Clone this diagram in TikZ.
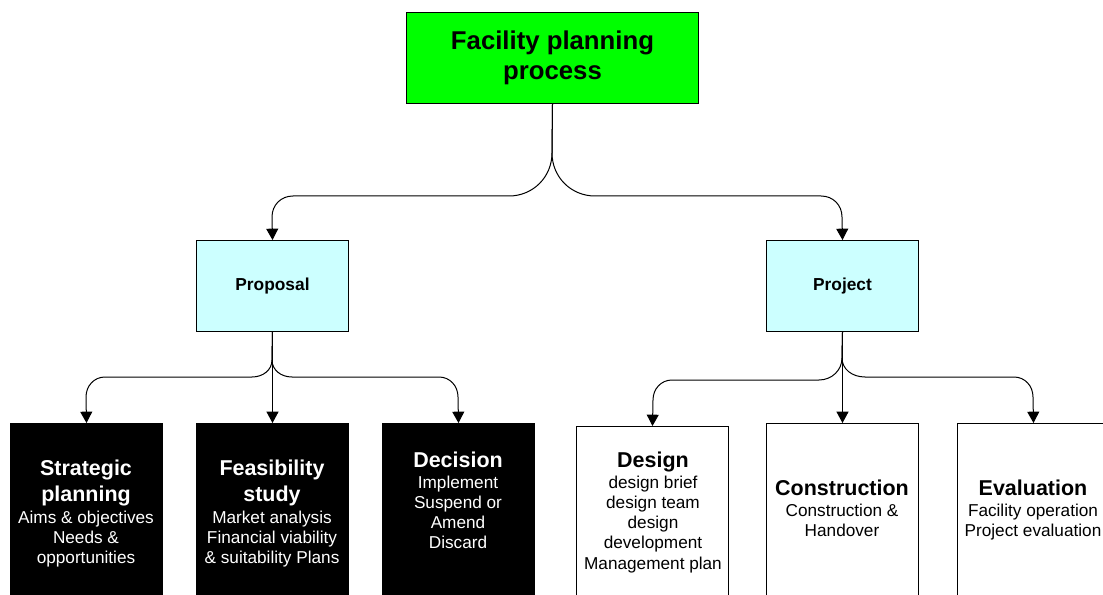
\documentclass[tikz,border=0pt]{standalone}
\usepackage{fontspec}
\setmainfont{Liberation Sans}
\usetikzlibrary{arrows.meta}
\definecolor{facgreen}{HTML}{00FF00}
\definecolor{phasecyan}{HTML}{CCFFFF}
\newcommand\headf{\fontsize{16.1}{19.5}\selectfont\bfseries}
\newcommand\bodyf{\fontsize{12.9}{15.2}\selectfont}
\begin{document}
\begin{tikzpicture}[x=0.75pt,y=-0.75pt,
  box/.style={draw=black, line width=0.75pt, inner sep=0pt, anchor=north west},
  topbox/.style={box, fill=facgreen, minimum width=219pt, minimum height=68.25pt,
    align=center, font=\fontsize{19.3}{22.5}\selectfont\bfseries},
  phasebox/.style={box, fill=phasecyan, minimum width=114pt, minimum height=68.25pt,
    font=\fontsize{13}{15.5}\selectfont\bfseries},
  darkbox/.style={box, fill=black, minimum width=114pt, minimum height=150pt},
  lightbox/.style={box, fill=white, minimum width=114pt, minimum height=150pt},
  darktext/.style={anchor=north, inner sep=0pt, align=center, text=white, font=\bodyf},
  lighttext/.style={anchor=north, inner sep=0pt, align=center, text=black, font=\bodyf},
  conn/.style={draw=black, line width=0.75pt, -{Triangle[width=9pt,length=8.5pt]}}
]
\path[use as bounding box, clip] (0,0) rectangle (1103,595);
\fill[white] (0,0) rectangle (1103,595);

% boxes
\node[topbox] (top) at (406,12) {Facility planning\\process};
\node[phasebox] (prop) at (196,240) {Proposal};
\node[phasebox] (proj) at (766,240) {Project};

\node[darkbox] (strat) at (10,423) {};
\node[darkbox] (feas) at (196,423) {};
\node[darkbox] (dec) at (382,423) {};
\node[lightbox] (design) at (576,426) {};
\node[lightbox] (cons) at (766,423) {};
\node[lightbox] (eval) at (957,423) {};

% box texts
\node[darktext] (strat-t) at (86,460)
  {{\headf Strategic}\\[4.3pt]{\headf planning}\\[1pt]Aims \& objectives\\Needs \&\\opportunities};
\node[darktext] (feas-t) at (272,460)
  {{\headf Feasibility}\\[4.3pt]{\headf study}\\[1pt]Market analysis\\Financial viability\\\& suitability Plans};
\node[darktext] (dec-t) at (458,452)
  {{\headf Decision}\\[0pt]Implement\\Suspend or\\Amend\\Discard};
\node[lighttext] (design-t) at (653,452)
  {{\headf Design}\\[0pt]design brief\\design team\\design\\development\\Management plan};
\node[lighttext] (cons-t) at (842,480)
  {{\headf Construction}\\[0pt]Construction \&\\Handover};
\node[lighttext] (eval-t) at (1033,480)
  {{\headf Evaluation}\\[0pt]Facility operation\\Project evaluation};

% connectors from the top box
\draw[conn] (top.south) -- (552,153) .. controls (552,177) and (533,196) .. (509,196)
  -- (293,196) .. controls (281,196) and (272,205) .. (272,217) -- (prop.north);
\draw[conn] (top.south) -- (552,153) .. controls (552,177) and (571,196) .. (595,196)
  -- (821,196) .. controls (833,196) and (842,205) .. (842,217) -- (proj.north);

% connectors from Proposal
\draw[conn] (prop.south) -- (272,360) .. controls (272,370) and (263,377) .. (252,377)
  -- (105,377) .. controls (94,377) and (86,386) .. (86,397) -- (strat.north);
\draw[conn] (prop.south) -- (feas.north);
\draw[conn] (prop.south) -- (272,360) .. controls (272,370) and (281,377) .. (292,377)
  -- (439,377) .. controls (450,377) and (458,386) .. (458,397) -- (dec.north);

% connectors from Project
\draw[conn] (proj.south) -- (842,358) .. controls (842,370) and (832,380) .. (819,380)
  -- (672,380) .. controls (661,380) and (653,389) .. (653,400) -- (design.north);
\draw[conn] (proj.south) -- (cons.north);
\draw[conn] (proj.south) -- (842,358) .. controls (842,369) and (852,377) .. (865,377)
  -- (1014,377) .. controls (1025,377) and (1033,386) .. (1033,397) -- (eval.north);
\end{tikzpicture}
\end{document}
